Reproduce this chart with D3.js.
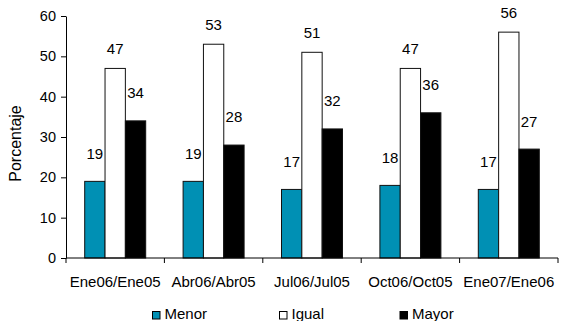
<!DOCTYPE html>
<html>
<head>
<meta charset="utf-8">
<script src="https://cdn.jsdelivr.net/npm/d3@7"></script>
<style>
  html, body { margin: 0; padding: 0; background: #fff; }
  svg { display: block; }
  text { font-family: "Liberation Sans", Arial, sans-serif; fill: #000; }
</style>
</head>
<body>
<svg id="chart" width="565" height="321"></svg>
<script>
// Period comparisons (x categories)
const categories = ["Ene06/Ene05", "Abr06/Abr05", "Jul06/Jul05", "Oct06/Oct05", "Ene07/Ene06"];
// Series names
const series = ["Menor", "Igual", "Mayor"];
// Percentages per series, one per category
const menor = [19, 19, 17, 18, 17];
const igual = [47, 53, 51, 47, 56];
const mayor = [34, 28, 32, 36, 27];
// Y-axis tick values
const yTicks = [0, 10, 20, 30, 40, 50, 60];

const values = { Menor: menor, Igual: igual, Mayor: mayor };
const fills = { Menor: "#0090b4", Igual: "#ffffff", Mayor: "#000000" };
// distance from bar top to the centre of its value label
const labelLift = { Menor: 28, Igual: 20, Mayor: 28 };

const svg = d3.select("#chart");
const plot = { left: 66, right: 558, top: 16, bottom: 258 };

const x0 = d3.scaleBand()
  .domain(categories)
  .range([plot.left, plot.right])
  .paddingInner(0)
  .paddingOuter(0);

const x1 = d3.scaleBand()
  .domain(series)
  .range([0, x0.bandwidth()])
  .paddingInner(0)
  .paddingOuter(0.92);

const y = d3.scaleLinear().domain([0, 60]).range([plot.bottom, plot.top]);

// Bars
const groups = svg.append("g")
  .selectAll("g")
  .data(categories)
  .join("g")
  .attr("transform", d => `translate(${x0(d)},0)`);

const cells = groups.selectAll("g.cell")
  .data((c, i) => series.map(s => ({ s, v: values[s][i] })))
  .join("g")
  .attr("class", "cell");

cells.append("rect")
  .attr("x", d => x1(d.s))
  .attr("width", x1.bandwidth())
  .attr("y", d => y(d.v))
  .attr("height", d => y(0) - y(d.v))
  .attr("fill", d => fills[d.s])
  .attr("stroke", "#111")
  .attr("stroke-width", 1);

cells.append("text")
  .attr("x", d => x1(d.s) + x1.bandwidth() / 2)
  .attr("y", d => y(d.v) - labelLift[d.s] + 5.4)
  .attr("text-anchor", "middle")
  .style("font-size", "15px")
  .text(d => d.v);

// Y axis
const yAxis = d3.axisLeft(y).tickValues(yTicks).tickSize(5).tickSizeOuter(0).tickPadding(5);
const gy = svg.append("g")
  .attr("transform", `translate(${plot.left},0)`)
  .call(yAxis);
gy.selectAll("text").style("font-size", "14.5px").attr("font-family", null);
gy.selectAll("path, line").attr("stroke", "#000");

// X axis: baseline, boundary ticks, centred labels
const gx = svg.append("g").attr("transform", `translate(0,${plot.bottom})`);
gx.append("line")
  .attr("x1", plot.left).attr("x2", plot.right)
  .attr("stroke", "#000");
gx.selectAll("line.tick")
  .data(d3.range(categories.length + 1))
  .join("line")
  .attr("class", "tick")
  .attr("x1", i => plot.left + i * x0.step())
  .attr("x2", i => plot.left + i * x0.step())
  .attr("y1", 0).attr("y2", 5)
  .attr("stroke", "#000");
gx.selectAll("text")
  .data(categories)
  .join("text")
  .attr("x", d => x0(d) + x0.bandwidth() / 2)
  .attr("y", 28.5)
  .attr("text-anchor", "middle")
  .style("font-size", "15px")
  .text(d => d);

// Y axis title
svg.append("text")
  .attr("transform", "translate(20.5,143.5) rotate(-90)")
  .attr("text-anchor", "middle")
  .style("font-size", "16px")
  .text("Porcentaje");

// Legend
const legendX = [152.5, 279.5, 400];
const legend = svg.append("g")
  .selectAll("g")
  .data(series)
  .join("g")
  .attr("transform", (d, i) => `translate(${legendX[i]},311.5)`);
legend.append("rect")
  .attr("width", 7.5).attr("height", 7.5)
  .attr("fill", d => fills[d])
  .attr("stroke", "#000");
legend.append("text")
  .attr("x", 12)
  .attr("y", 7)
  .style("font-size", "15px")
  .text(d => d);
</script>
</body>
</html>
